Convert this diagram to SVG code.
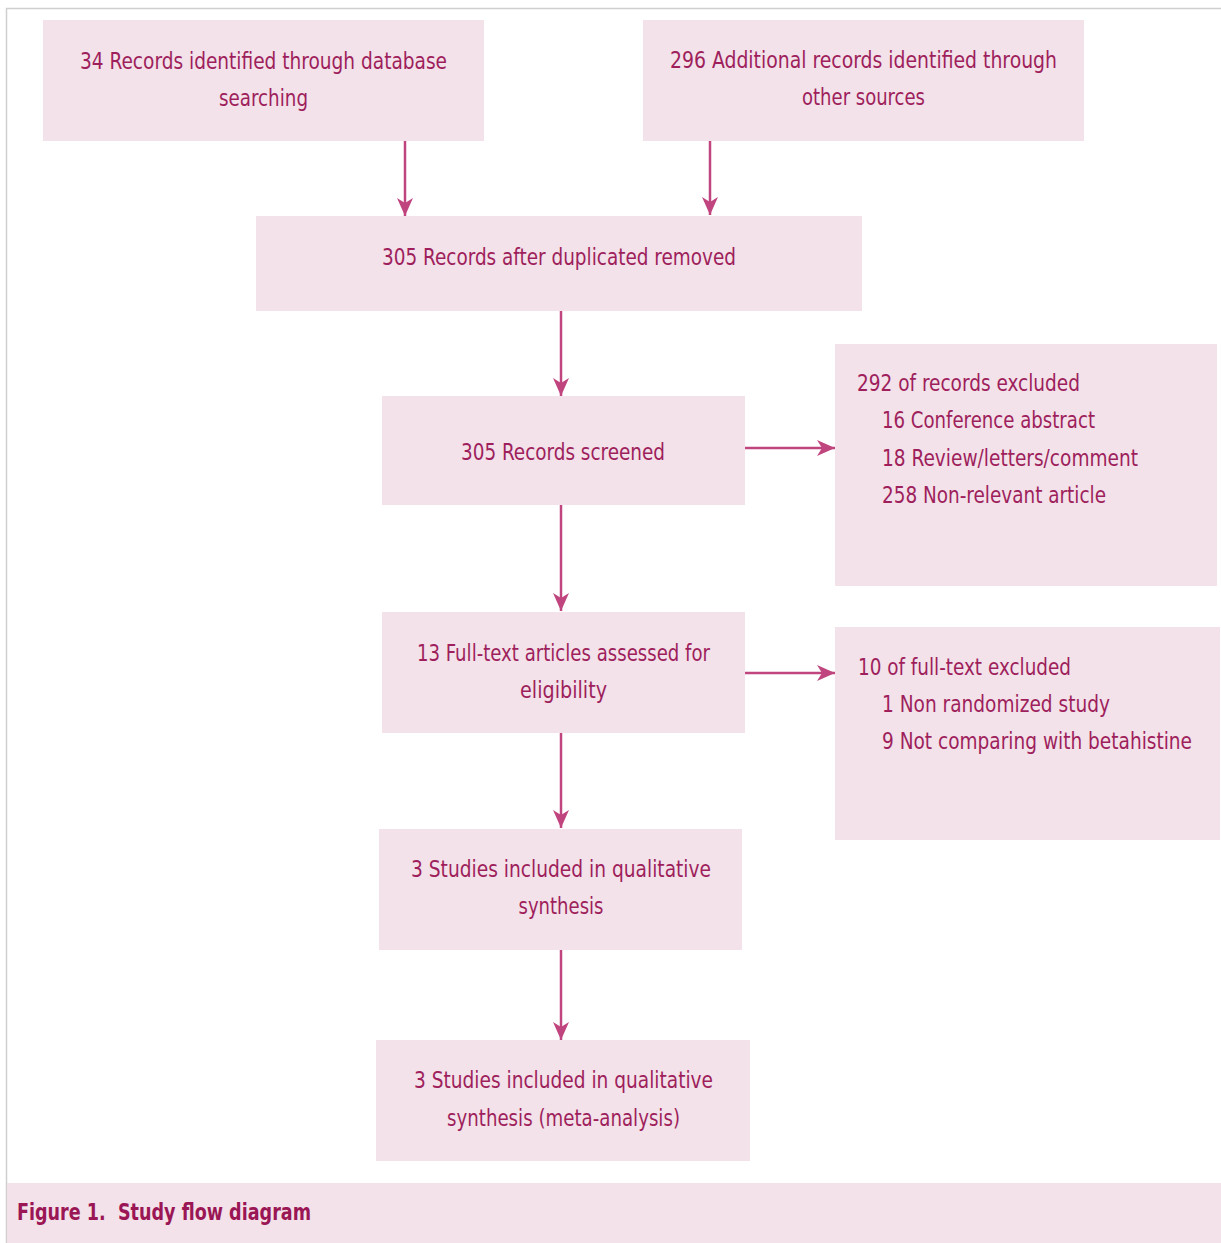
<svg xmlns="http://www.w3.org/2000/svg" width="1221" height="1243" viewBox="0 0 1221 1243">
<defs>
<style>
.box{fill:#f3e2ea;}
.t{font-family:"DejaVu Sans Condensed","DejaVu Sans","Liberation Sans",sans-serif;font-stretch:condensed;font-size:23px;fill:#9e1f5c;}
.c{text-anchor:middle;}
.cap{font-family:"DejaVu Sans Condensed","DejaVu Sans","Liberation Sans",sans-serif;font-stretch:condensed;font-weight:bold;font-size:23px;fill:#9a1655;}
.ln{stroke:#c0457f;stroke-width:2.5;fill:none;marker-end:url(#ah);}
</style>
<marker id="ah" markerUnits="userSpaceOnUse" markerWidth="20" markerHeight="18" viewBox="0 0 20 18" refX="18" refY="9" orient="auto">
<path d="M0,1 L18,9 L0,17 L5,9 z" fill="#c0457f"/>
</marker>
</defs>
<rect x="0" y="0" width="1221" height="1243" fill="#ffffff"/>
<path d="M6.5,1243 V8.5 H1221" fill="none" stroke="#cfcfcf" stroke-width="1.5"/>

<g id="n1">
<rect class="box" x="43" y="20" width="441" height="121"/>
<text class="t c" x="263.5" y="69" textLength="367" lengthAdjust="spacingAndGlyphs">34 Records identified through database</text>
<text class="t c" x="263.5" y="106" textLength="89" lengthAdjust="spacingAndGlyphs">searching</text>
</g>
<g id="n2">
<rect class="box" x="643" y="20" width="441" height="121"/>
<text class="t c" x="863.5" y="68" textLength="387" lengthAdjust="spacingAndGlyphs">296 Additional records identified through</text>
<text class="t c" x="863.5" y="105" textLength="123" lengthAdjust="spacingAndGlyphs">other sources</text>
</g>
<g id="n3">
<rect class="box" x="256" y="216" width="606" height="95"/>
<text class="t c" x="559" y="265" textLength="354" lengthAdjust="spacingAndGlyphs">305 Records after duplicated removed</text>
</g>
<g id="n4">
<rect class="box" x="382" y="396" width="363" height="109"/>
<text class="t c" x="563" y="460" textLength="204" lengthAdjust="spacingAndGlyphs">305 Records screened</text>
</g>
<g id="n5">
<rect class="box" x="835" y="344" width="382" height="242"/>
<text class="t" x="857" y="391" textLength="223" lengthAdjust="spacingAndGlyphs">292 of records excluded</text>
<text class="t" x="882" y="428" textLength="213" lengthAdjust="spacingAndGlyphs">16 Conference abstract</text>
<text class="t" x="882" y="466" textLength="256" lengthAdjust="spacingAndGlyphs">18 Review/letters/comment</text>
<text class="t" x="882" y="503" textLength="224" lengthAdjust="spacingAndGlyphs">258 Non-relevant article</text>
</g>
<g id="n6">
<rect class="box" x="382" y="612" width="363" height="121"/>
<text class="t c" x="563.5" y="661" textLength="293" lengthAdjust="spacingAndGlyphs">13 Full-text articles assessed for</text>
<text class="t c" x="563.5" y="698" textLength="87" lengthAdjust="spacingAndGlyphs">eligibility</text>
</g>
<g id="n7">
<rect class="box" x="835" y="627" width="385" height="213"/>
<text class="t" x="858" y="675" textLength="213" lengthAdjust="spacingAndGlyphs">10 of full-text excluded</text>
<text class="t" x="882" y="712" textLength="228" lengthAdjust="spacingAndGlyphs">1 Non randomized study</text>
<text class="t" x="882" y="749" textLength="310" lengthAdjust="spacingAndGlyphs">9 Not comparing with betahistine</text>
</g>
<g id="n8">
<rect class="box" x="379" y="829" width="363" height="121"/>
<text class="t c" x="561" y="877" textLength="300" lengthAdjust="spacingAndGlyphs">3 Studies included in qualitative</text>
<text class="t c" x="561" y="914" textLength="85" lengthAdjust="spacingAndGlyphs">synthesis</text>
</g>
<g id="n9">
<rect class="box" x="376" y="1040" width="374" height="121"/>
<text class="t c" x="563.5" y="1088" textLength="299" lengthAdjust="spacingAndGlyphs">3 Studies included in qualitative</text>
<text class="t c" x="563.5" y="1126" textLength="233" lengthAdjust="spacingAndGlyphs">synthesis (meta-analysis)</text>
</g>

<g id="connectors">
<line class="ln" x1="405" y1="141" x2="405" y2="216"/>
<line class="ln" x1="710" y1="141" x2="710" y2="215"/>
<line class="ln" x1="561" y1="311" x2="561" y2="396"/>
<line class="ln" x1="745" y1="448" x2="835" y2="448"/>
<line class="ln" x1="561" y1="505" x2="561" y2="611"/>
<line class="ln" x1="745" y1="673" x2="835" y2="673"/>
<line class="ln" x1="561" y1="733" x2="561" y2="828"/>
<line class="ln" x1="561" y1="950" x2="561" y2="1040"/>
</g>

<g id="caption">
<rect class="box" x="7" y="1183" width="1214" height="60"/>
<text class="cap" x="17" y="1220" textLength="294" lengthAdjust="spacingAndGlyphs">Figure 1.&#160; Study flow diagram</text>
</g>
</svg>
